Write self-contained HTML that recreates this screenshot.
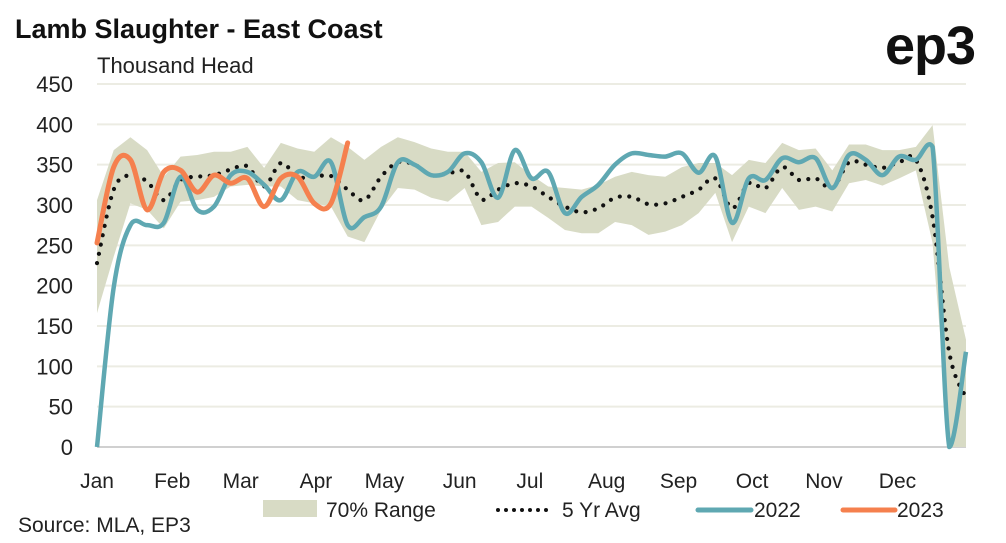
<!DOCTYPE html>
<html><head><meta charset="utf-8"><style>
html,body{margin:0;padding:0;background:#fff;width:1006px;height:543px;overflow:hidden}
svg{display:block;font-family:"Liberation Sans",sans-serif}
</style></head><body>
<svg id="chart" width="1006" height="543" viewBox="0 0 1006 543">
<text x="15" y="38" font-size="27" font-weight="bold" fill="#111">Lamb Slaughter - East Coast</text>
<text x="885" y="64" font-size="54" font-weight="bold" fill="#111" letter-spacing="-1">ep3</text>
<text x="97" y="73" font-size="22" fill="#222">Thousand Head</text>
<g id="grid"></g>
<g id="band"></g>
<g id="lines"></g>
<g id="xlabels"></g>
<text x="18" y="532" font-size="21" fill="#222">Source: MLA, EP3</text>
<g>
<rect x="263" y="500" width="54" height="17" fill="#d8dbc5"/>
<text x="326" y="517" font-size="21" fill="#222">70% Range</text>
<line x1="498" y1="510" x2="548" y2="510" stroke="#111" stroke-width="4" stroke-linecap="round" stroke-dasharray="0 8"/>
<text x="562" y="517" font-size="21" fill="#222">5 Yr Avg</text>
<line x1="698" y1="510" x2="751" y2="510" stroke="#5fa8b2" stroke-width="5" stroke-linecap="round"/>
<text x="754" y="517" font-size="21" fill="#222">2022</text>
<line x1="843" y1="510" x2="895" y2="510" stroke="#f5804e" stroke-width="5" stroke-linecap="round"/>
<text x="897" y="517" font-size="21" fill="#222">2023</text>
</g>
</svg>
<script>
const yTicks=[0,50,100,150,200,250,300,350,400,450];
const months=["Jan","Feb","Mar","Apr","May","Jun","Jul","Aug","Sep","Oct","Nov","Dec"];
const monthWeek=[0,4.5,8.6,13.1,17.2,21.7,25.9,30.5,34.8,39.2,43.5,47.9];
const s2022=[0,198,275,275,278,335,294,298,337,341,325,306,341,335,353,275,285,298,353,350,337,341,364,353,309,368,333,341,290,310,325,350,364,362,360,364,340,360,278,333,331,358,353,358,321,362,356,337,360,356,372,0,118];
const s2023=[253,347,356,294,341,343,316,337,327,333,298,333,335,302,302,377];
const avg5=[228,319,337,329,306,331,335,337,344,348,323,352,335,335,336,319,306,335,353,350,337,339,341,307,319,327,323,310,298,291,296,309,310,301,302,310,319,333,296,327,321,347,331,333,321,353,350,346,353,356,285,117,61];
const bandHi=[306,368,384,368,335,360,362,366,366,372,346,377,370,366,384,372,356,372,384,378,370,366,366,341,352,353,337,323,321,319,325,335,341,337,335,347,352,352,337,356,352,377,368,370,343,375,375,368,368,372,399,223,133];
const bandLo=[166,236,302,294,271,304,306,310,323,325,323,323,306,302,298,261,254,294,321,319,309,304,321,275,279,298,298,284,269,265,265,279,275,263,267,275,290,315,254,298,290,321,294,298,292,327,331,324,333,343,253,0,0];
const NS="http://www.w3.org/2000/svg";
const X0=97,X1=966,Y0=447,Y1=84;
function xs(i){return X0+i*(X1-X0)/52;}
function ys(v){return Y0-(v/450)*(Y0-Y1);}
function mk(t,a,p){const e=document.createElementNS(NS,t);for(const k in a)e.setAttribute(k,a[k]);p.appendChild(e);return e;}
const grid=document.getElementById('grid');
yTicks.forEach(t=>{
 const l=mk('line',{x1:X0,x2:X1,y1:ys(t),y2:ys(t),stroke:t===0?'#d0d0d0':'#ecece3','stroke-width':2},grid);
 
 
 const tx=mk('text',{x:73,y:ys(t)+8,'text-anchor':'end','font-size':22,fill:'#222'},grid);
 tx.textContent=t;
 
 
});
const xl=document.getElementById('xlabels');
months.forEach((m,k)=>{
 const tx=mk('text',{x:xs(monthWeek[k]),y:488,'text-anchor':'middle','font-size':21,fill:'#222'},xl);
 tx.textContent=m;
 
 
});
const band=document.getElementById('band');
let pts=bandHi.map((v,i)=>xs(i)+','+ys(v));
for(let i=bandLo.length-1;i>=0;i--)pts.push(xs(i)+','+ys(bandLo[i]));
const poly=mk('polygon',{points:pts.join(' '),fill:'#d8dbc5'},band);


function smooth(arr){
 const p=arr.map((v,i)=>[xs(i),ys(v)]);
 const n=p.length;
 let d='M'+p[0][0]+','+p[0][1];
 for(let i=0;i<n-1;i++){
  const p0=p[i-1]||p[i],p1=p[i],p2=p[i+1],p3=p[i+2]||p2;
  const lo=Math.min(p1[1],p2[1])-10,hi=Math.max(p1[1],p2[1])+10;
  const cl=v=>Math.max(lo,Math.min(hi,Math.min(Y0,v)));
  const c1=[p1[0]+(p2[0]-p0[0])/6,cl(p1[1]+(p2[1]-p0[1])/6)];
  const c2=[p2[0]-(p3[0]-p1[0])/6,cl(p2[1]-(p3[1]-p1[1])/6)];
  d+=' C'+c1+' '+c2+' '+p2;
 }
 return d;
}
const lines=document.getElementById('lines');
const a=mk('path',{d:smooth(avg5),fill:'none',stroke:'#111','stroke-width':4.2,'stroke-linecap':'round','stroke-dasharray':'0 9.5'},lines);


const b=mk('path',{d:smooth(s2022),fill:'none',stroke:'#5fa8b2','stroke-width':4.5,'stroke-linejoin':'round'},lines);


const c=mk('path',{d:smooth(s2023),fill:'none',stroke:'#f5804e','stroke-width':5,'stroke-linecap':'round','stroke-linejoin':'round'},lines);


</script>
</body></html>
